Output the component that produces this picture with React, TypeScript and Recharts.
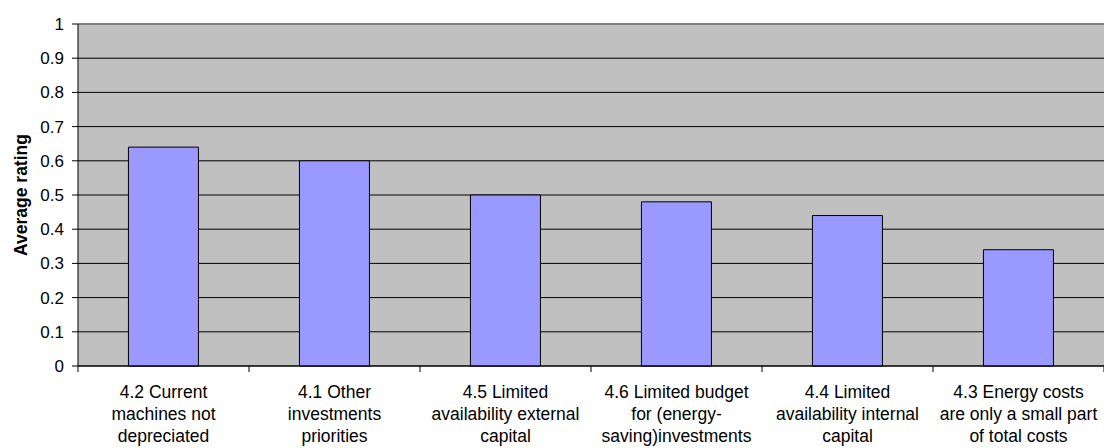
import React from "react";
import {
  BarChart, Bar, XAxis, YAxis, CartesianGrid, ReferenceLine,
} from "recharts";

// Barrier ratings, highest first
const CATEGORIES = [
  "4.2 Current\nmachines not\ndepreciated",
  "4.1 Other\ninvestments\npriorities",
  "4.5 Limited\navailability external\ncapital",
  "4.6 Limited budget\nfor (energy-\nsaving)investments",
  "4.4 Limited\navailability internal\ncapital",
  "4.3 Energy costs\nare only a small part\nof total costs",
];
const RATINGS = [0.64, 0.6, 0.5, 0.48, 0.44, 0.34];
const Y_TICKS = [0, 0.1, 0.2, 0.3, 0.4, 0.5, 0.6, 0.7, 0.8, 0.9, 1];

const W = 1104;
const H = 448;
const Y_AXIS_W = 78;
const X_AXIS_H = 82;
const TOP = 24;
const FONT = "'Liberation Sans', Arial, sans-serif";

const rows = CATEGORIES.map((label, i) => ({ label, rating: RATINGS[i] }));
const STEP = (W - Y_AXIS_W) / CATEGORIES.length;

/** Multi-line category label with tick marks on the category boundaries */
function CategoryTick(props: any) {
  const { x, y, payload, index } = props;
  const axisY = y - 8; // recharts hands us the label anchor, below the axis line
  const lines = String(payload.value).split("\n");
  const right = x + STEP / 2;
  const left = x - STEP / 2;
  return (
    <g>
      {index === 0 && <line x1={left} x2={left} y1={axisY} y2={axisY + 6} stroke="#000" />}
      <line x1={right} x2={right} y1={axisY} y2={axisY + 6} stroke="#000" />
      <text textAnchor="middle" fontSize={17.5} fontFamily={FONT} fill="#000">
        {lines.map((ln, i) => (
          <tspan key={i} x={x} y={axisY + 32 + i * 22}>{ln}</tspan>
        ))}
      </text>
    </g>
  );
}

export default function App() {
  return (
    <div style={{ position: "absolute", left: 0, top: 0, width: W, height: H, background: "#fff" }}>
      <BarChart
        width={W}
        height={H}
        data={rows}
        margin={{ top: TOP, right: 0, bottom: 0, left: 0 }}
        barCategoryGap="29.5%"
      >
        <CartesianGrid
          vertical={false}
          stroke="#000"
          fill="#C0C0C0"
          fillOpacity={1}
        />
        <XAxis
          dataKey="label"
          height={X_AXIS_H}
          interval={0}
          tickLine={false}
          axisLine={{ stroke: "#000" }}
          tick={<CategoryTick />}
        />
        <YAxis
          width={Y_AXIS_W}
          domain={[0, 1]}
          ticks={Y_TICKS}
          interval={0}
          tickSize={6}
          tickMargin={8}
          tickLine={{ stroke: "#000" }}
          axisLine={{ stroke: "#000" }}
          tick={{ fill: "#000", fontSize: 17, fontFamily: FONT }}
          tickFormatter={(v: number) => String(v)}
          label={{
            value: "Average rating",
            angle: -90,
            position: "insideLeft",
            dx: 16,
            style: { fontSize: 17.5, fontWeight: "bold", fontFamily: FONT, fill: "#000", textAnchor: "middle" },
          }}
        />
        <ReferenceLine y={1} stroke="#808080" strokeWidth={2} />
        <Bar
          dataKey="rating"
          fill="#9999FF"
          stroke="#000"
          strokeWidth={1}
          isAnimationActive={false}
        />
      </BarChart>
    </div>
  );
}
